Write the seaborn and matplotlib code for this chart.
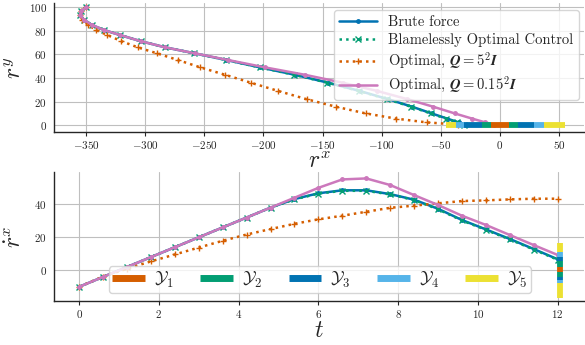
import numpy as np
import pandas as pd
import seaborn as sns
import matplotlib.pyplot as plt

# time grid (s)
t = [0.0, 0.6, 1.2, 1.8, 2.4, 3.0, 3.6, 4.2, 4.8, 5.4, 6.0,
     6.6, 7.2, 7.8, 8.4, 9.0, 9.6, 10.2, 10.8, 11.4, 12.0]

# velocity r_dot^x
vx_brute = [-10, -4, 2, 8, 14, 20, 26, 32, 38, 43.2, 46.7,
            48.5, 48.5, 46.2, 42.8, 37.3, 30.5, 24.8, 19.0, 12.9, 6.7]
vx_blame = [-10, -4, 2, 8, 14, 20, 26, 32, 38, 43.0, 46.5,
            48.2, 48.2, 46.0, 42.6, 37.0, 30.2, 24.5, 18.7, 12.6, 6.4]
vx_opt5 = [-10, -3.8, 1.0, 5.4, 9.6, 13.8, 17.9, 21.7, 25.0, 28.2, 30.9,
           33.1, 35.5, 37.9, 39.2, 40.6, 42.0, 42.4, 43.0, 43.4, 43.4]
vx_opt015 = [-10, -4, 2, 8, 14, 20, 26, 32, 38, 44.0, 50.0,
             55.1, 55.7, 51.7, 45.6, 39.6, 33.1, 27.5, 21.4, 15.3, 9.3]

# positions r^x, r^y
rx_brute = [-350, -354.2, -354.8, -351.8, -345.2, -335.0, -321.2, -303.8, -282.8, -258.4, -231.4,
            -202.8, -173.7, -145.3, -118.6, -94.6, -74.3, -57.7, -44.6, -35.0, -29.1]
rx_blame = [-350, -354.2, -354.8, -351.8, -345.2, -335.0, -321.2, -303.8, -282.8, -258.5, -231.6,
            -203.1, -174.2, -145.9, -119.3, -95.4, -75.2, -58.6, -45.6, -36.1, -30.2]
rx_opt5 = [-350, -354.1, -354.9, -353.0, -348.5, -341.5, -332.0, -320.1, -306.1, -290.1, -272.4,
           -253.2, -232.6, -210.6, -187.5, -163.5, -138.7, -113.4, -87.8, -61.9, -35.9]
rx_opt015 = [-350, -354.2, -354.8, -351.8, -345.2, -335.0, -321.2, -303.8, -282.8, -258.2, -230.0,
             -198.5, -165.2, -133.0, -103.8, -78.2, -56.4, -38.2, -23.5, -12.5, -5.1]
ry = [100, 96.5, 93.3, 89.6, 85.2, 80.8, 76.5, 71.3, 66.0, 61.0, 55.3,
      49.0, 42.8, 36.0, 29.0, 22.0, 15.6, 9.9, 5.5, 2.3, 0.5]

# target sets Y1..Y5 (segment edges and set index)
pos_edges = [-46, -37.5, -30.5, -15.5, -7.5, 7.5, 15.5, 29, 37.5, 55]
vel_edges = [-17, -7.5, -5.9, -3.9, -0.8, 2.2, 5.8, 8.2, 11.3, 16.4]
seg_sets = [5, 4, 3, 2, 1, 2, 3, 4, 5]
set_names = [r"$\mathcal{Y}_1$", r"$\mathcal{Y}_2$", r"$\mathcal{Y}_3$",
             r"$\mathcal{Y}_4$", r"$\mathcal{Y}_5$"]

sns.set_style("whitegrid")
plt.rcParams["font.family"] = ["cmr10", "DejaVu Serif"]
plt.rcParams["mathtext.fontset"] = "cm"
plt.rcParams["axes.formatter.use_mathtext"] = True
plt.rcParams["axes.unicode_minus"] = True

pal = sns.color_palette("colorblind")
set_colors = [pal[3], pal[2], pal[0], pal[9], pal[8]]

series = [
    ("Brute force", rx_brute, vx_brute, pal[0], "-", ".", 5),
    ("Blamelessly Optimal Control", rx_blame, vx_blame, pal[2], ":", "x", 5),
    (r"Optimal, $\mathbfit{Q} = \mathbf{5^2}\mathbfit{I}$", rx_opt5, vx_opt5, pal[3], ":", "+", 5),
    (r"Optimal, $\mathbfit{Q} = \mathbf{0.15^2}\mathbfit{I}$", rx_opt015, vx_opt015, pal[4], "-", ".", 5),
]

fig = plt.figure(figsize=(5.85, 3.45), dpi=100)
ax1 = fig.add_axes([54 / 585, 1 - 131.7 / 345, 530 / 585, 128.7 / 345])
ax2 = fig.add_axes([54 / 585, 1 - 301 / 345, 530 / 585, 129 / 345])

for name, rx, vx, col, ls, mk, ms in series:
    sns.lineplot(x=rx, y=ry, sort=False, ax=ax1, color=col, linestyle=ls, lw=1.8,
                 marker=mk, markersize=ms, markeredgecolor=col, markeredgewidth=1.0,
                 label=name, estimator=None)
    sns.lineplot(x=t, y=vx, sort=False, ax=ax2, color=col, linestyle=ls, lw=1.8,
                 marker=mk, markersize=ms, markeredgecolor=col, markeredgewidth=1.0,
                 estimator=None, legend=False)

# target sets drawn as coloured bars
for i, s in enumerate(seg_sets):
    c = set_colors[s - 1]
    ax1.hlines(0, pos_edges[i], pos_edges[i + 1], colors=[c], lw=4.2, zorder=5)
    ax2.vlines(12.05, vel_edges[i], vel_edges[i + 1], colors=[c], lw=4.2, zorder=5)

ax1.set_xlim(-377, 71)
ax1.set_ylim(-5.6, 103.7)
ax1.set_xticks([-350, -300, -250, -200, -150, -100, -50, 0, 50])
ax1.set_yticks([0, 20, 40, 60, 80, 100])
ax1.set_xlabel(r"$r^x$", fontsize=17, labelpad=0)
ax1.set_ylabel(r"$r^y$", fontsize=17)
ax1.yaxis.set_label_coords(-0.052, 0.5)

ax2.set_xlim(-0.63, 12.66)
ax2.set_ylim(-18.6, 59.6)
ax2.set_xticks([0, 2, 4, 6, 8, 10, 12])
ax2.set_yticks([0, 20, 40])
ax2.set_xlabel(r"$t$", fontsize=17, labelpad=0)
ax2.set_ylabel(r"$\dot{r}^x$", fontsize=17)
ax2.yaxis.set_label_coords(-0.052, 0.5)

for ax in (ax1, ax2):
    for side in ("top", "right"):
        ax.spines[side].set_visible(False)
    for side in ("left", "bottom"):
        ax.spines[side].set_color("0.15")
        ax.spines[side].set_linewidth(1.0)
    ax.tick_params(labelsize=8, length=3, width=0.8, color="0.15", pad=2,
                   bottom=True, left=False)
    ax.grid(True, color="0.75", lw=0.8)

ax1.legend(loc="upper right", bbox_to_anchor=(0.99, 0.946), borderaxespad=0,
           fontsize=10.5, handlelength=2.6, labelspacing=0.28, borderpad=0.35,
           frameon=True)

handles = [plt.Line2D([], [], color=c, lw=5, solid_capstyle="butt") for c in set_colors]
ax2.legend(handles, set_names, loc="lower center", bbox_to_anchor=(0.502, 0.06),
           ncol=5, fontsize=13, handlelength=1.8, columnspacing=1.45,
           borderaxespad=0, frameon=True, handletextpad=0.5, borderpad=0.2)

fig.savefig("out.png", dpi=100)
